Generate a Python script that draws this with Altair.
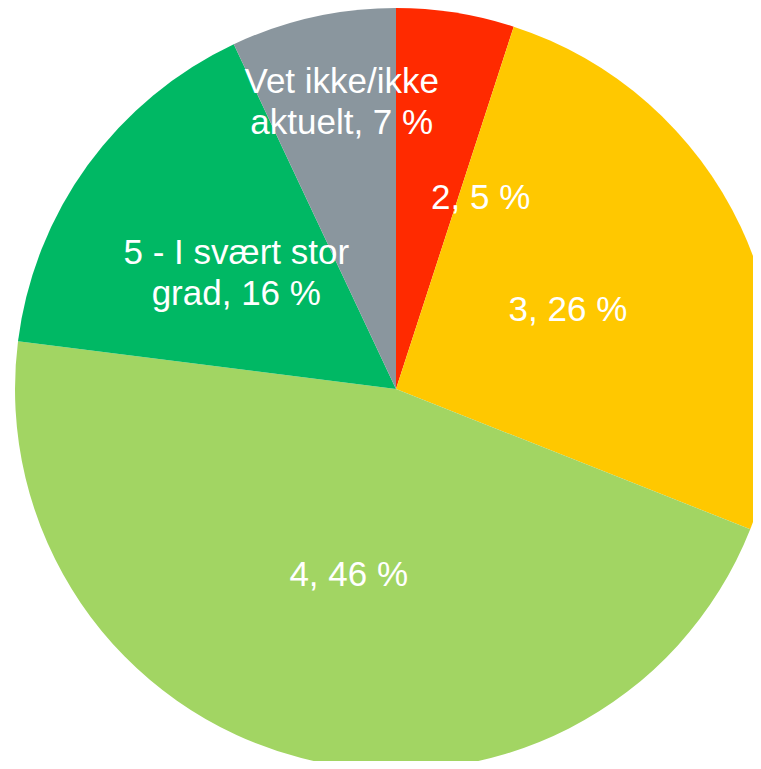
import altair as alt
import pandas as pd

categories = ["2", "3", "4", "5 - I svært stor grad", "Vet ikke/ikke aktuelt"]
values = [5, 26, 46, 16, 7]
labels = ["2, 5 %", "3, 26 %", "4, 46 %", "5 - I svært stor\ngrad, 16 %", "Vet ikke/ikke\naktuelt, 7 %"]
colors = ["#FF2A00", "#FFC800", "#A2D563", "#00B864", "#8A969E"]

df = pd.DataFrame({
    "cat": categories,
    "value": values,
    "label": labels,
    "idx": list(range(len(categories))),
})

CX, CY = 388, 381

base = alt.Chart(df).encode(
    theta=alt.Theta("value:Q", stack=True),
    order=alt.Order("idx:Q", sort="ascending"),
    x=alt.value(CX),
    y=alt.value(CY),
)

pie = base.mark_arc(outerRadius=381).encode(
    color=alt.Color("cat:N", scale=alt.Scale(domain=categories, range=colors), legend=None)
)

text_style = dict(font="Liberation Sans", fontSize=35, color="white",
                  lineBreak="\n", lineHeight=41, align="center", baseline="middle")

def label_layer(ids, radius, dx=0, dy=0):
    return base.mark_text(radius=radius, dx=dx, dy=dy, **text_style).encode(
        text=alt.condition(
            alt.FieldOneOfPredicate(field="idx", oneOf=ids),
            alt.Text("label:N"),
            alt.value(""),
        )
    )

t_main = label_layer([1, 2], 190, dy=2)
t_green = label_layer([3], 190, dx=-6, dy=-24)
t_grey = label_layer([4], 290, dx=9, dy=-24)
t_red = label_layer([0], 190, dx=55, dy=-3)

chart = alt.layer(pie, t_main, t_green, t_grey, t_red).properties(
    width=745, height=753, padding=0,
    autosize=alt.AutoSizeParams(type="none"),
).configure_view(stroke=None)

chart.save("out.html", embed_options={"renderer": "svg", "actions": False})
